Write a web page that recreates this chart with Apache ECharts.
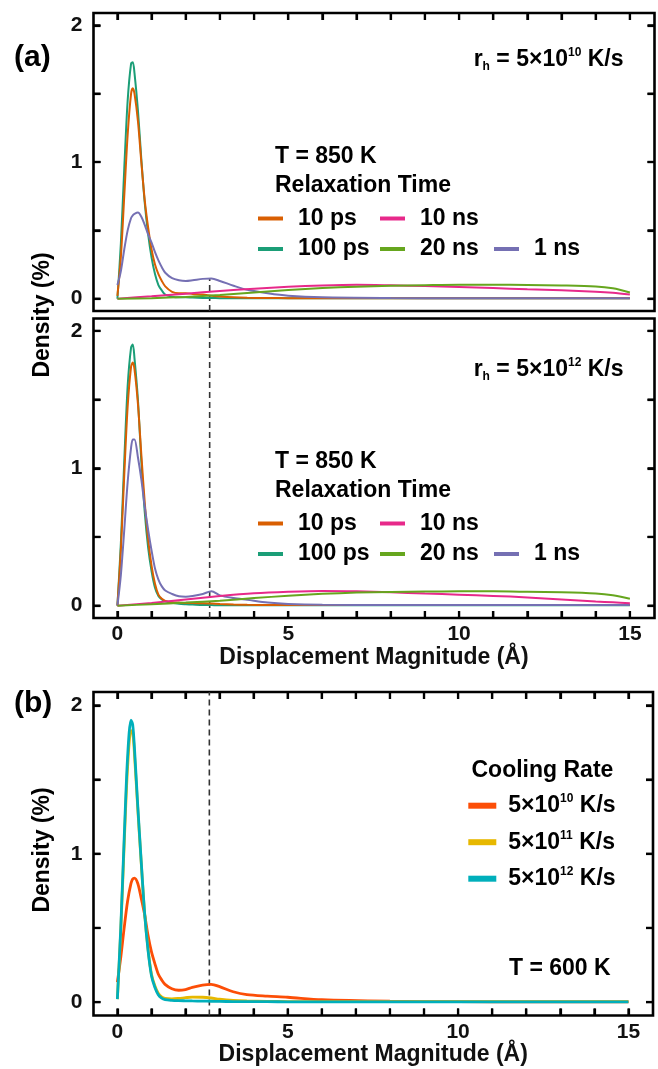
<!DOCTYPE html>
<html>
<head>
<meta charset="utf-8">
<script src="https://cdn.jsdelivr.net/npm/echarts@6/dist/echarts.min.js"></script>
<style>
  html, body { margin: 0; padding: 0; background: #fff; }
  #chart { width: 658px; height: 1069px; }
</style>
</head>
<body>
<div id="chart"></div>
<script>
// Sampling positions (Å) for the sharply peaked and the broad distributions
const xFine = [0, 0.1, 0.2, 0.3, 0.4, 0.45, 0.5, 0.6, 0.7, 0.8, 0.9, 1.0, 1.1, 1.2, 1.3, 1.4, 1.6, 1.8, 2.0, 2.2, 2.5, 2.75, 3.0, 3.4, 3.8, 4.4, 5, 6, 8, 10, 12, 15];
const xBroad = [0, 1, 2, 3, 4, 5, 6, 7, 8, 9, 10, 11, 12, 13, 14, 14.5, 15];

// (a) upper panel, r_h = 5e10 K/s, T = 850 K (density, %)
const a1_10ps  = [0.02, 0.3, 0.75, 1.2, 1.5, 1.54, 1.5, 1.3, 1.0, 0.72, 0.52, 0.36, 0.25, 0.18, 0.13, 0.09, 0.05, 0.04, 0.04, 0.035, 0.03, 0.022, 0.016, 0.01, 0.007, 0.005, 0.004, 0.003, 0.003, 0.003, 0.003, 0.003];
const a1_100ps = [0.0, 0.4, 0.95, 1.45, 1.72, 1.73, 1.65, 1.38, 1.02, 0.7, 0.47, 0.3, 0.18, 0.1, 0.06, 0.03, 0.015, 0.01, 0.01, 0.008, 0.006, 0.005, 0.004, 0.003, 0.003, 0.003, 0.003, 0.003, 0.003, 0.003, 0.003, 0.003];
const a1_1ns   = [0.1, 0.2, 0.36, 0.5, 0.59, 0.61, 0.62, 0.63, 0.6, 0.54, 0.47, 0.41, 0.34, 0.28, 0.23, 0.19, 0.15, 0.135, 0.13, 0.135, 0.145, 0.147, 0.13, 0.095, 0.065, 0.04, 0.022, 0.01, 0.005, 0.004, 0.004, 0.004];
const a1_10ns  = [0, 0.018, 0.037, 0.056, 0.073, 0.087, 0.097, 0.102, 0.098, 0.092, 0.085, 0.078, 0.069, 0.061, 0.051, 0.043, 0.03];
const a1_20ns  = [0, 0.004, 0.013, 0.027, 0.045, 0.063, 0.078, 0.088, 0.095, 0.099, 0.102, 0.102, 0.1, 0.097, 0.09, 0.076, 0.046];

// (a) lower panel, r_h = 5e12 K/s, T = 850 K
const a2_10ps  = [0, 0.4, 0.95, 1.45, 1.74, 1.77, 1.72, 1.47, 1.1, 0.75, 0.48, 0.29, 0.16, 0.08, 0.05, 0.035, 0.025, 0.022, 0.02, 0.02, 0.018, 0.015, 0.012, 0.008, 0.006, 0.005, 0.005, 0.004, 0.004, 0.004, 0.004, 0.004];
const a2_100ps = [0, 0.45, 1.05, 1.6, 1.88, 1.9, 1.8, 1.5, 1.05, 0.68, 0.42, 0.25, 0.13, 0.07, 0.045, 0.032, 0.02, 0.013, 0.01, 0.008, 0.005, 0.004, 0.003, 0.003, 0.003, 0.003, 0.003, 0.003, 0.003, 0.003, 0.003, 0.003];
const a2_1ns   = [0, 0.22, 0.55, 0.9, 1.15, 1.21, 1.21, 1.08, 0.92, 0.72, 0.55, 0.4, 0.27, 0.19, 0.14, 0.11, 0.085, 0.068, 0.065, 0.07, 0.085, 0.105, 0.075, 0.055, 0.042, 0.022, 0.012, 0.006, 0.004, 0.004, 0.004, 0.004];
const a2_10ns  = [0, 0.02, 0.045, 0.07, 0.09, 0.101, 0.107, 0.104, 0.097, 0.088, 0.08, 0.071, 0.06, 0.045, 0.03, 0.024, 0.018];
const a2_20ns  = [0, 0.01, 0.022, 0.036, 0.055, 0.072, 0.086, 0.095, 0.1, 0.103, 0.104, 0.104, 0.101, 0.097, 0.088, 0.075, 0.05];

// (b) T = 600 K, three cooling rates
const b_rate10 = [0.135, 0.3, 0.5, 0.68, 0.8, 0.83, 0.836, 0.8, 0.7, 0.59, 0.45, 0.34, 0.26, 0.19, 0.15, 0.12, 0.09, 0.08, 0.085, 0.1, 0.115, 0.12, 0.105, 0.07, 0.05, 0.04, 0.033, 0.016, 0.006, 0.003, 0.002, 0.002];
const b_rate11 = [0.02, 0.48, 1.06, 1.58, 1.83, 1.82, 1.68, 1.3, 0.94, 0.6, 0.36, 0.19, 0.11, 0.06, 0.035, 0.025, 0.022, 0.025, 0.03, 0.034, 0.033, 0.028, 0.02, 0.012, 0.008, 0.005, 0.004, 0.003, 0.003, 0.003, 0.003, 0.003];
const b_rate12 = [0.02, 0.5, 1.1, 1.65, 1.9, 1.87, 1.72, 1.32, 0.95, 0.6, 0.35, 0.18, 0.1, 0.05, 0.027, 0.017, 0.012, 0.01, 0.009, 0.008, 0.007, 0.006, 0.005, 0.004, 0.003, 0.003, 0.002, 0.002, 0.002, 0.002, 0.002, 0.002];

// Names, ticks and the reference position
const relaxNames = ['10 ps', '100 ps', '10 ns', '20 ns', '1 ns'];
const coolingNames = ['5×10^10 K/s', '5×10^11 K/s', '5×10^12 K/s'];
const xTicks = [0, 1, 2, 3, 4, 5, 6, 7, 8, 9, 10, 11, 12, 13, 14, 15];
const xTickLabels = [0, 5, 10, 15];
const yTicks = [0, 0.5, 1, 1.5, 2];
const yTickLabels = [0, 1, 2];
const refX = 2.7;
const refTopA1 = 0.146;

const FONT = '"Liberation Sans", Arial, Helvetica, sans-serif';
const relaxColors = { '10 ps': '#D95F02', '100 ps': '#1B9E77', '10 ns': '#E7298A', '20 ns': '#66A61E', '1 ns': '#7570B3' };
const coolColors = ['#FC4E07', '#E7B800', '#00AFBB'];
const TICK_LEN = 7;
const TICK_W = 2.2;

const zip = (xs, ys) => xs.map((x, i) => [x, ys[i]]);

const X_MIN = -0.7, X_MAX = 15.72, Y_MIN = -0.09, Y_MAX = 2.09;

function xAxis(grid, position, showLabels, name) {
  const ax = {
    type: 'value', gridIndex: grid, position: position, min: X_MIN, max: X_MAX,
    splitLine: { show: false },
    axisLine: { show: true, onZero: false, lineStyle: { color: 'transparent' } },
    axisTick: { show: true, inside: true, length: TICK_LEN, customValues: xTicks, lineStyle: { color: '#000', width: TICK_W } },
    axisLabel: { show: showLabels, customValues: xTickLabels, margin: 6, fontSize: 21, fontWeight: 'bold', color: '#111', fontFamily: FONT }
  };
  if (name) {
    ax.name = name; ax.nameLocation = 'middle'; ax.nameGap = 22;
    ax.nameTextStyle = { fontSize: 23, fontWeight: 'bold', color: '#111', fontFamily: FONT, verticalAlign: 'top' };
  }
  return ax;
}
function yAxis(grid, position, showLabels) {
  return {
    type: 'value', gridIndex: grid, position: position, min: Y_MIN, max: Y_MAX,
    splitLine: { show: false },
    axisLine: { show: true, onZero: false, lineStyle: { color: 'transparent' } },
    axisTick: { show: true, inside: true, length: TICK_LEN, customValues: yTicks, lineStyle: { color: '#000', width: TICK_W } },
    axisLabel: { show: showLabels, customValues: yTickLabels, margin: 11, fontSize: 21, fontWeight: 'bold', color: '#111', fontFamily: FONT, formatter: v => String(v) }
  };
}

function line(name, idx, xs, ys, color, width) {
  return {
    name: name, type: 'line', xAxisIndex: idx, yAxisIndex: idx * 2,
    data: zip(xs, ys), showSymbol: false, smooth: 0.3, color: color,
    lineStyle: { color: color, width: width }, silent: true, animation: false
  };
}
function refLine(idx, top) {
  return {
    type: 'line', xAxisIndex: idx, yAxisIndex: idx * 2, silent: true, animation: false,
    data: [[refX, Y_MIN], [refX, top]], showSymbol: false, z: 1,
    lineStyle: { color: '#333', width: 1.6, type: [6, 4] }
  };
}

// Inward tick marks on the frame edges, positioned through each panel's scales
function frameTicks(idx, onTop, onBottom) {
  const data = xTicks.map(v => [v, 0]).concat(yTicks.map(v => [v, 1]));
  return {
    type: 'custom', xAxisIndex: idx, yAxisIndex: idx * 2, silent: true, animation: false, z: 5, clip: false,
    data: data,
    renderItem: (params, api) => {
      const v = api.value(0), kind = api.value(1);
      const style = { stroke: '#000', lineWidth: TICK_W };
      const children = [];
      if (kind === 0) {
        const lo = api.coord([v, Y_MIN]), hi = api.coord([v, Y_MAX]);
        if (onBottom) children.push({ type: 'line', shape: { x1: lo[0], y1: lo[1], x2: lo[0], y2: lo[1] - TICK_LEN }, style: style });
        if (onTop) children.push({ type: 'line', shape: { x1: hi[0], y1: hi[1], x2: hi[0], y2: hi[1] + TICK_LEN }, style: style });
      } else {
        const l = api.coord([X_MIN, v]), r = api.coord([X_MAX, v]);
        children.push({ type: 'line', shape: { x1: l[0], y1: l[1], x2: l[0] + TICK_LEN, y2: l[1] }, style: style });
        children.push({ type: 'line', shape: { x1: r[0], y1: r[1], x2: r[0] - TICK_LEN, y2: r[1] }, style: style });
      }
      return { type: 'group', children: children };
    }
  };
}

const grids = [
  { left: 93.5, top: 13, width: 561, height: 298 },
  { left: 93.5, top: 318.5, width: 561, height: 299.5 },
  { left: 93.5, top: 692, width: 559.5, height: 323.5 }
].map(g => Object.assign({ show: true, borderColor: '#000', borderWidth: 2.6, outerBoundsMode: 'none', containLabel: false }, g));

const xAxes = [
  xAxis(0, 'top', false),
  xAxis(1, 'bottom', true, 'Displacement Magnitude (Å)'),
  xAxis(2, 'bottom', true, 'Displacement Magnitude (Å)'),
  xAxis(2, 'top', false)
];
const yAxes = [
  yAxis(0, 'left', true), yAxis(0, 'right', false),
  yAxis(1, 'left', true), yAxis(1, 'right', false),
  yAxis(2, 'left', true), yAxis(2, 'right', false)
];

const series = [
  refLine(0, refTopA1),
  line('100 ps', 0, xFine, a1_100ps, relaxColors['100 ps'], 2),
  line('10 ps', 0, xFine, a1_10ps, relaxColors['10 ps'], 2),
  line('1 ns', 0, xFine, a1_1ns, relaxColors['1 ns'], 2),
  line('10 ns', 0, xBroad, a1_10ns, relaxColors['10 ns'], 2),
  line('20 ns', 0, xBroad, a1_20ns, relaxColors['20 ns'], 2),
  frameTicks(0, true, false),

  refLine(1, Y_MAX),
  line('100 ps', 1, xFine, a2_100ps, relaxColors['100 ps'], 2),
  line('10 ps', 1, xFine, a2_10ps, relaxColors['10 ps'], 2),
  line('1 ns', 1, xFine, a2_1ns, relaxColors['1 ns'], 2),
  line('10 ns', 1, xBroad, a2_10ns, relaxColors['10 ns'], 2),
  line('20 ns', 1, xBroad, a2_20ns, relaxColors['20 ns'], 2),
  frameTicks(1, false, true),

  refLine(2, Y_MAX),
  line(coolingNames[0], 2, xFine, b_rate10, coolColors[0], 2.8),
  line(coolingNames[1], 2, xFine, b_rate11, coolColors[1], 2.8),
  line(coolingNames[2], 2, xFine, b_rate12, coolColors[2], 2.8),
  frameTicks(2, true, true)
];

const legendText = { fontSize: 23, fontWeight: 'bold', color: '#000', fontFamily: FONT, lineHeight: 26, padding: [0, 0, 0, 10] };
function relaxLegend(names, left, top) {
  return {
    data: names, orient: 'vertical', left: left, top: top, padding: 0,
    itemWidth: 25, itemHeight: 4, itemGap: 4.5, icon: 'rect', selectedMode: false,
    textStyle: legendText
  };
}
const rowA1 = 205.5, rowA2 = 510.5, rowStep = 30.5;
const legends = [
  relaxLegend([relaxNames[0], relaxNames[1]], 258, rowA1),
  relaxLegend([relaxNames[2], relaxNames[3]], 380, rowA1),
  relaxLegend([relaxNames[4]], 494, rowA1 + rowStep),
  relaxLegend([relaxNames[0], relaxNames[1]], 258, rowA2),
  relaxLegend([relaxNames[2], relaxNames[3]], 380, rowA2),
  relaxLegend([relaxNames[4]], 494, rowA2 + rowStep),
  {
    data: coolingNames, orient: 'vertical', left: 468.3, top: 792.7, padding: 0,
    itemWidth: 28, itemHeight: 6, itemGap: 12, icon: 'rect', selectedMode: false,
    formatter: name => {
      const exp = name.match(/\^(\d+)/)[1];
      return '{m|5×10}{p|' + exp + '}{m| K/s}';
    },
    textStyle: {
      fontFamily: FONT, padding: [0, 0, 0, 7],
      rich: {
        m: { fontSize: 23, fontWeight: 'bold', color: '#000', fontFamily: FONT, lineHeight: 26 },
        p: { fontSize: 12, fontWeight: 'bold', color: '#000', fontFamily: FONT, lineHeight: 15, verticalAlign: 'top' }
      }
    }
  }
];

const baseText = { fontSize: 23, fontWeight: 'bold', fontFamily: FONT, fill: '#000' };
function label(text, x, y, extra) {
  return { type: 'text', x: x, y: y, silent: true,
    style: Object.assign({ text: text, align: 'left', verticalAlign: 'middle' }, baseText, extra || {}) };
}
function rateLabel(exp, xRight, y) {
  return { type: 'text', x: xRight, y: y, silent: true,
    style: {
      text: '{m|r}{s|h}{m| = 5×10}{p|' + exp + '}{m| K/s}', align: 'right', verticalAlign: 'middle',
      rich: {
        m: { fontSize: 23, fontWeight: 'bold', fontFamily: FONT, fill: '#000', lineHeight: 26 },
        s: { fontSize: 12, fontWeight: 'bold', fontFamily: FONT, fill: '#000', lineHeight: 4, verticalAlign: 'bottom' },
        p: { fontSize: 12, fontWeight: 'bold', fontFamily: FONT, fill: '#000', lineHeight: 15, verticalAlign: 'top' }
      }
    } };
}

const graphic = [
  label('(a)', 14, 58, { fontSize: 30 }),
  label('(b)', 14, 704, { fontSize: 30 }),
  { type: 'text', x: 43, y: 315, rotation: Math.PI / 2, silent: true,
    style: Object.assign({ text: 'Density (%)', align: 'center', verticalAlign: 'middle' }, baseText) },
  { type: 'text', x: 43, y: 850, rotation: Math.PI / 2, silent: true,
    style: Object.assign({ text: 'Density (%)', align: 'center', verticalAlign: 'middle' }, baseText) },
  rateLabel('10', 623.5, 59.5),
  rateLabel('12', 623.5, 369.5),
  label('T = 850 K', 275, 157),
  label('Relaxation Time', 275, 185.5),
  label('T = 850 K', 275, 462),
  label('Relaxation Time', 275, 490.5),
  label('Cooling Rate', 471.5, 771),
  label('T = 600 K', 509, 968.5)
];

const chart = echarts.init(document.getElementById('chart'), null, { renderer: 'canvas' });
chart.setOption({
  animation: false,
  backgroundColor: '#fff',
  textStyle: { fontFamily: FONT },
  grid: grids,
  xAxis: xAxes,
  yAxis: yAxes,
  legend: legends,
  graphic: graphic,
  series: series
});
</script>
</body>
</html>
